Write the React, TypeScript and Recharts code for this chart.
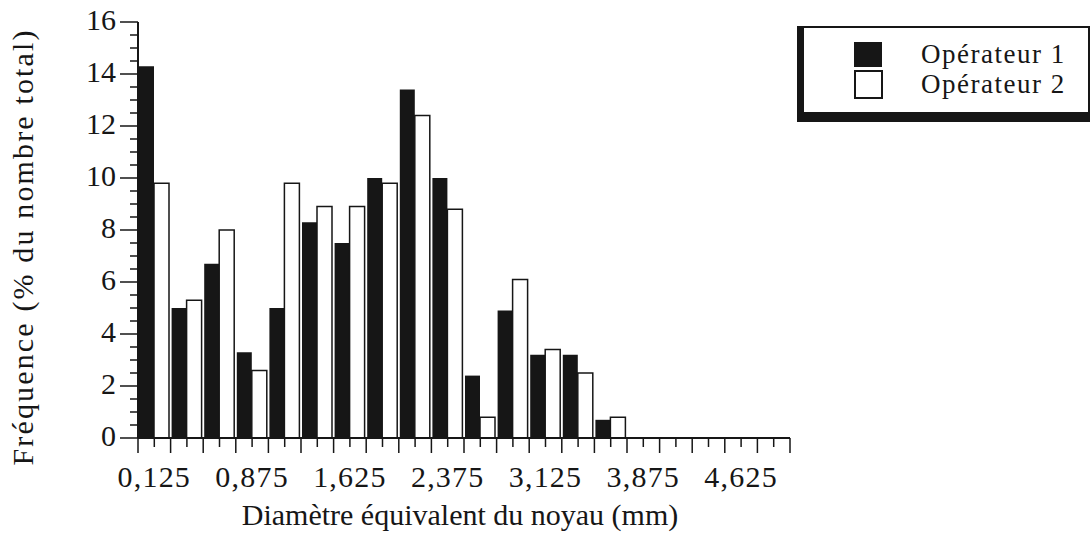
import React from 'react';
import { BarChart, Bar, XAxis, YAxis, Legend } from 'recharts';

const CATEGORIES = [
  '0,125', '0,375', '0,625', '0,875', '1,125', '1,375', '1,625', '1,875', '2,125', '2,375',
  '2,625', '2,875', '3,125', '3,375', '3,625', '3,875', '4,125', '4,375', '4,625', '4,875',
];
const OPERATEUR_1 = [14.3, 5.0, 6.7, 3.3, 5.0, 8.3, 7.5, 10.0, 13.4, 10.0, 2.4, 4.9, 3.2, 3.2, 0.7, 0, 0, 0, 0, 0];
const OPERATEUR_2 = [9.8, 5.3, 8.0, 2.6, 9.8, 8.9, 8.9, 9.8, 12.4, 8.8, 0.8, 6.1, 3.4, 2.5, 0.8, 0, 0, 0, 0, 0];
const SERIES_NAMES = ['Opérateur 1', 'Opérateur 2'];
const X_LABELS = ['0,125', '0,875', '1,625', '2,375', '3,125', '3,875', '4,625'];
const Y_LABELS = [0, 2, 4, 6, 8, 10, 12, 14, 16];
const Y_TICKS = [
  0, 0.5, 1, 1.5, 2, 2.5, 3, 3.5, 4, 4.5, 5, 5.5, 6, 6.5, 7, 7.5, 8,
  8.5, 9, 9.5, 10, 10.5, 11, 11.5, 12, 12.5, 13, 13.5, 14, 14.5, 15, 15.5, 16,
];

const data = CATEGORIES.map((cat, i) => ({ cat, op1: OPERATEUR_1[i], op2: OPERATEUR_2[i] }));

const INK = '#161616';
const FONT = '"Liberation Serif", "Times New Roman", Times, serif';
const PLOT_W = 652;
const BAND = PLOT_W / CATEGORIES.length;

const XTick = (props: any) => {
  const { x, y, payload, index } = props;
  const label = X_LABELS.includes(payload.value);
  return (
    <g>
      <line x1={x} x2={x} y1={y} y2={y + 9} stroke={INK} strokeWidth={1.5} />
      <line x1={x - BAND / 2} x2={x - BAND / 2} y1={y} y2={y + 15} stroke={INK} strokeWidth={1.5} />
      {index === CATEGORIES.length - 1 && (
        <line x1={x + BAND / 2} x2={x + BAND / 2} y1={y} y2={y + 15} stroke={INK} strokeWidth={1.5} />
      )}
      {label && (
        <text x={x} y={y + 49} textAnchor="middle" fontFamily={FONT} fontSize={30} letterSpacing={1.2} fill={INK}>
          {payload.value}
        </text>
      )}
    </g>
  );
};

const YTick = (props: any) => {
  const { x, y, payload } = props;
  const major = Y_LABELS.includes(payload.value);
  return (
    <g>
      <line x1={x - (major ? 18 : 8)} x2={x} y1={y} y2={y} stroke={INK} strokeWidth={1.5} />
      {major && (
        <text x={x - 22} y={y + 8} textAnchor="end" fontFamily={FONT} fontSize={30} fill={INK}>
          {payload.value}
        </text>
      )}
    </g>
  );
};

const YTitle = () => (
  <text
    x={33}
    y={248}
    transform="rotate(-90 33 248)"
    textAnchor="middle"
    fontFamily={FONT}
    fontSize={30}
    textLength={435}
    lengthAdjust="spacing"
    fill={INK}
  >
    Fréquence (% du nombre total)
  </text>
);

const XTitle = () => (
  <text x={460} y={525} textAnchor="middle" fontFamily={FONT} fontSize={30} fill={INK}>
    Diamètre équivalent du noyau (mm)
  </text>
);

const LegendBox = () => (
  <div
    style={{
      boxSizing: 'border-box',
      width: 293,
      height: 96,
      border: `2px solid ${INK}`,
      borderLeft: `7px solid ${INK}`,
      borderBottom: `10px solid ${INK}`,
      background: '#fff',
      position: 'relative',
      fontFamily: FONT,
      fontSize: 27,
      lineHeight: '30px',
      letterSpacing: 1.5,
      color: INK,
    }}
  >
    <div style={{ position: 'absolute', left: 50, top: 14, width: 28, height: 25, background: INK }} />
    <div
      style={{
        position: 'absolute', left: 50, top: 42, width: 29, height: 29,
        boxSizing: 'border-box', border: `2px solid ${INK}`, background: '#fff',
      }}
    />
    <div style={{ position: 'absolute', left: 117, top: 11, whiteSpace: 'nowrap' }}>{SERIES_NAMES[0]}</div>
    <div style={{ position: 'absolute', left: 117, top: 41, whiteSpace: 'nowrap' }}>{SERIES_NAMES[1]}</div>
  </div>
);

export default function App() {
  return (
    <div style={{ position: 'absolute', left: 0, top: 0, background: '#fff' }}>
      <BarChart
        width={1091}
        height={535}
        data={data}
        margin={{ top: 22, right: 301, bottom: 0, left: 0 }}
        barCategoryGap={1}
        barGap={0}
      >
        <XAxis
          dataKey="cat"
          interval={0}
          height={97}
          tickSize={0}
          tickMargin={0}
          tickLine={false}
          axisLine={{ stroke: INK, strokeWidth: 2 }}
          tick={<XTick />}
          label={<XTitle />}
        />
        <XAxis
          xAxisId="top"
          dataKey="cat"
          orientation="top"
          height={0}
          tick={false}
          tickLine={false}
          axisLine={{ stroke: INK, strokeWidth: 1.5 }}
        />
        <YAxis
          domain={[0, 16]}
          ticks={Y_TICKS}
          interval={0}
          width={138}
          tickSize={0}
          tickMargin={0}
          tickLine={false}
          axisLine={{ stroke: INK, strokeWidth: 2 }}
          tick={<YTick />}
          label={<YTitle />}
        />
        <YAxis
          yAxisId="right"
          orientation="right"
          domain={[0, 16]}
          width={0}
          tick={false}
          tickLine={false}
          axisLine={{ stroke: INK, strokeWidth: 2 }}
        />
        <Legend
          layout="vertical"
          align="center"
          verticalAlign="middle"
          wrapperStyle={{ left: 797, top: 26, width: 293, height: 96 }}
          content={() => <LegendBox />}
        />
        <Bar dataKey="op1" name={SERIES_NAMES[0]} fill={INK} isAnimationActive={false} />
        <Bar dataKey="op2" name={SERIES_NAMES[1]} fill="#fff" stroke={INK} strokeWidth={1.5} isAnimationActive={false} />
      </BarChart>
    </div>
  );
}
